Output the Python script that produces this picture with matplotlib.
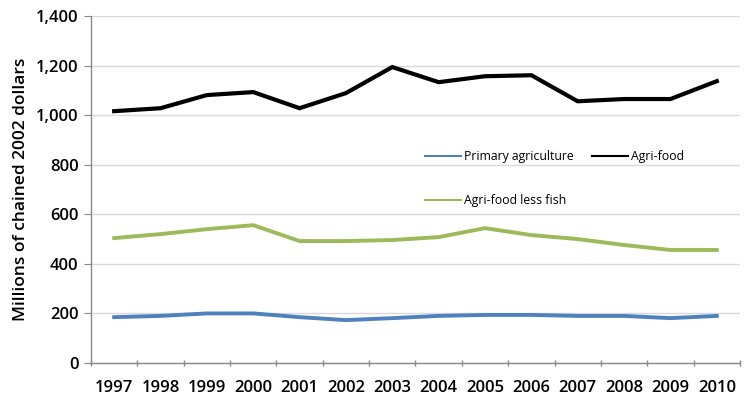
import matplotlib
matplotlib.use("Agg")
import matplotlib.pyplot as plt
import numpy as np
from matplotlib.ticker import FuncFormatter, FixedLocator

years = ["1997", "1998", "1999", "2000", "2001", "2002", "2003", "2004",
         "2005", "2006", "2007", "2008", "2009", "2010"]
primary_agriculture = [185, 190, 200, 200, 185, 173, 181, 190, 194, 194, 190, 190, 181, 190]
agri_food = [1016, 1028, 1081, 1093, 1028, 1089, 1194, 1133, 1157, 1161, 1056, 1065, 1065, 1137]
agri_food_less_fish = [504, 520, 540, 556, 492, 492, 496, 508, 544, 516, 500, 476, 456, 456]

plt.rcParams['font.family'] = ['Open Sans', 'DejaVu Sans']

fig = plt.figure(figsize=(7.52, 4.0), dpi=100)
ax = fig.add_axes([0.121, 0.0925, 0.863, 0.8675])

x = np.arange(len(years))
l1, = ax.plot(x, primary_agriculture, color="#4f81bd", lw=2.8, label="Primary agriculture", solid_joinstyle="miter")
l2, = ax.plot(x, agri_food, color="#000000", lw=3.0, label="Agri-food", solid_joinstyle="miter")
l3, = ax.plot(x, agri_food_less_fish, color="#9bbb59", lw=2.8, label="Agri-food less fish", solid_joinstyle="miter")

ax.set_xlim(-0.5, len(years) - 0.5)
ax.set_ylim(0, 1400)
ax.set_yticks(np.arange(0, 1401, 200))
ax.yaxis.set_major_formatter(FuncFormatter(lambda v, p: f"{int(v):,}"))
ax.set_xticks(x)
ax.set_xticklabels(years)
ax.xaxis.set_minor_locator(FixedLocator(np.arange(-0.5, len(years), 1.0)))
ax.tick_params(axis='x', which='major', length=0, pad=12, labelsize=12, colors="#000000")
ax.tick_params(axis='x', which='minor', length=5, direction='inout', color="#888888", width=1)
ax.tick_params(axis='y', length=5, direction='out', color="#888888", labelsize=12, pad=4)
for lbl in ax.get_xticklabels() + ax.get_yticklabels():
    lbl.set_fontweight('semibold')

ax.grid(axis='y', color="#d9d9d9", lw=1)
ax.set_axisbelow(True)
for s in ['top', 'right']:
    ax.spines[s].set_visible(False)
for s in ['left', 'bottom']:
    ax.spines[s].set_color("#888888")
    ax.spines[s].set_linewidth(1)

ax.set_ylabel("Millions of chained 2002 dollars", fontsize=12.5, fontweight='semibold', labelpad=5)

leg = ax.legend(handles=[l1, l3, l2], ncol=2, loc='upper left',
                bbox_to_anchor=(0.497, 0.645), frameon=False, fontsize=8.8,
                handlelength=3.0, handletextpad=0.2, columnspacing=1.5,
                labelspacing=2.55)
for h in leg.get_lines():
    h.set_linewidth(1.5)

fig.savefig("out.png", dpi=100)
